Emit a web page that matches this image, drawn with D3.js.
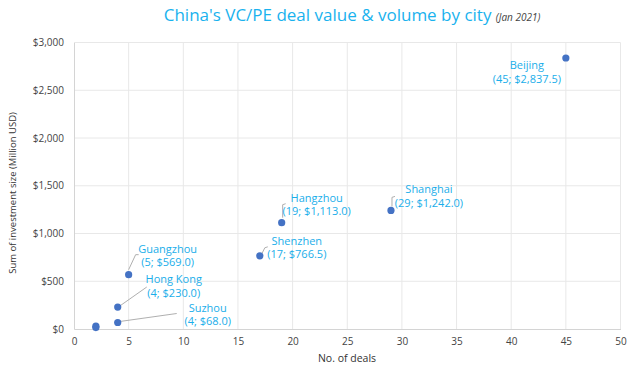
<!DOCTYPE html>
<html>
<head>
<meta charset="utf-8">
<script src="https://cdn.jsdelivr.net/npm/d3@7"></script>
<style>
  body { margin: 0; background: #fff; }
  text { font-family: "Open Sans", sans-serif; }
</style>
</head>
<body>
<script>
/* Data */
const cities = ["Beijing", "Shanghai", "Hangzhou", "Shenzhen", "Guangzhou", "Hong Kong", "Suzhou", "", ""]
const deals = [45, 29, 19, 17, 5, 4, 4, 2, 2]
const values = [2837.5, 1242.0, 1113.0, 766.5, 569.0, 230.0, 68.0, 30, 15]
const xTicks = [0, 5, 10, 15, 20, 25, 30, 35, 40, 45, 50]
const yTicks = [0, 500, 1000, 1500, 2000, 2500, 3000]

/* Label layout (pixel offsets from each point) */
const labelOffsets = [[-39, 7], [38, -21], [35, -25], [37, -15], [39, -26], [56, -28], [90, -15], null, null]
const leaders = [
  null,
  [[1, -4], [1, -13], [4, -14]],
  [[1, -5], [1, -18], [4, -19]],
  [[2, -2], [5, -8], [8, -9]],
  [[0, -5], [7, -20], [10, -20]],
  [[2, -1], [29, -20]],
  [[2, -1], [59, -9]],
  null, null
]

/* Define svg-size. */
const width = 640
const height = 369

const svg = d3.select("body")
  .append("svg")
  .attr("width", width)
  .attr("height", height)

const x = d3.scaleLinear().domain([0, 50]).range([74, 620.5])
const y = d3.scaleLinear().domain([0, 3000]).range([329, 42.5])

/* Gridlines */
svg.append("g")
  .selectAll("line")
  .data(xTicks.slice(1))
  .enter()
  .append("line")
  .attr("x1", d => x(d)).attr("x2", d => x(d))
  .attr("y1", y(0)).attr("y2", y(3000))
  .attr("stroke", "#e8e8e8")

svg.append("g")
  .selectAll("line")
  .data(yTicks.slice(1))
  .enter()
  .append("line")
  .attr("x1", x(0)).attr("x2", x(50))
  .attr("y1", d => y(d)).attr("y2", d => y(d))
  .attr("stroke", "#e8e8e8")

/* Axes */
const xAxis = svg.append("g")
  .attr("transform", `translate(0,${y(0)})`)
  .call(d3.axisBottom(x).tickValues(xTicks).tickSize(0).tickPadding(9))
xAxis.select(".domain").attr("stroke", "#d4d4d4")
xAxis.selectAll("text").attr("fill", "#444").attr("font-size", 10)

const yAxis = svg.append("g")
  .attr("transform", `translate(${x(0)},0)`)
  .call(d3.axisLeft(y).tickValues(yTicks).tickSize(0).tickPadding(10)
    .tickFormat(d => "$" + d3.format(",")(d)))
yAxis.select(".domain").attr("stroke", "#d4d4d4")
yAxis.selectAll("text").attr("fill", "#444").attr("font-size", 10)

/* Axis titles */
svg.append("text")
  .attr("x", 347).attr("y", 362)
  .attr("text-anchor", "middle")
  .attr("font-size", 10.5)
  .attr("fill", "#333")
  .text("No. of deals")

svg.append("text")
  .attr("transform", "translate(16,193) rotate(-90)")
  .attr("text-anchor", "middle")
  .attr("font-size", 9.5)
  .attr("fill", "#333")
  .text("Sum of investment size (Million USD)")

/* Title */
const title = svg.append("text")
  .attr("x", 352).attr("y", 21)
  .attr("text-anchor", "middle")
title.append("tspan")
  .attr("font-size", 17)
  .attr("fill", "#19b2ee")
  .text("China's VC/PE deal value & volume by city ")
title.append("tspan")
  .attr("font-size", 10)
  .attr("font-style", "italic")
  .attr("fill", "#444")
  .text("(Jan 2021)")

/* Leader lines */
const pts = deals.map((d, i) => ({ x: x(d), y: y(values[i]), i }))

svg.append("g")
  .selectAll("path")
  .data(pts.filter(p => leaders[p.i]))
  .enter()
  .append("path")
  .attr("d", p => d3.line()(leaders[p.i].map(o => [p.x + o[0], p.y + o[1]])))
  .attr("fill", "none")
  .attr("stroke", "#a6a6a6")
  .attr("stroke-width", 0.9)

/* Points */
svg.append("g")
  .selectAll("circle")
  .data(pts)
  .enter()
  .append("circle")
  .attr("cx", p => p.x)
  .attr("cy", p => p.y)
  .attr("r", 3.6)
  .attr("fill", "#4472c4")

/* Data labels */
const labels = svg.append("g")
  .selectAll("text")
  .data(pts.filter(p => labelOffsets[p.i]))
  .enter()
  .append("text")
  .attr("text-anchor", "middle")
  .attr("font-size", 11)
  .attr("fill", "#1aaeea")

labels.append("tspan")
  .attr("x", p => p.x + labelOffsets[p.i][0])
  .attr("y", p => p.y + labelOffsets[p.i][1] + 4)
  .text(p => cities[p.i])

labels.append("tspan")
  .attr("x", p => p.x + labelOffsets[p.i][0])
  .attr("y", p => p.y + labelOffsets[p.i][1] + 17.5)
  .text(p => `(${deals[p.i]}; $${d3.format(",.1f")(values[p.i])})`)
</script>
</body>
</html>
